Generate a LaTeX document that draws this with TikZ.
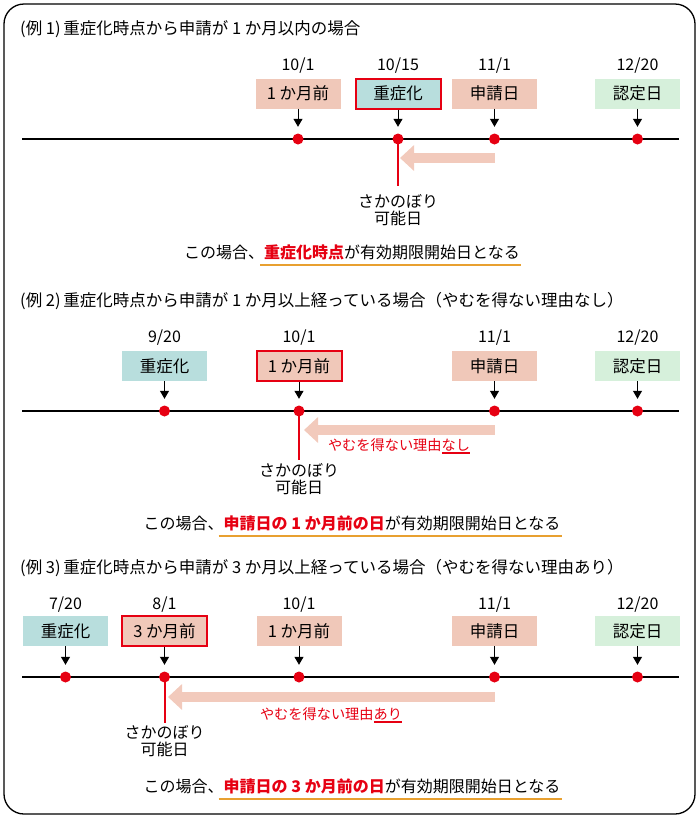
\documentclass[tikz,border=0pt]{standalone}
\usepackage{fontspec}
\setmainfont{Noto Sans CJK JP}
\usetikzlibrary{arrows.meta,calc}
\definecolor{boxpink}{RGB}{240,200,185}
\definecolor{boxteal}{RGB}{184,222,221}
\definecolor{boxgreen}{RGB}{214,240,219}
\definecolor{arrowpink}{RGB}{242,202,188}
\definecolor{hred}{RGB}{230,0,18}
\definecolor{uorange}{RGB}{232,160,48}
\begin{document}
\begin{tikzpicture}[x=1pt,y=-1pt,
  evbox/.style={minimum width=85pt, minimum height=30pt, inner sep=0pt, font=\fontsize{16.5}{16.5}\selectfont},
  pinkb/.style={evbox, fill=boxpink},
  tealb/.style={evbox, fill=boxteal},
  greenb/.style={evbox, fill=boxgreen},
  hl/.style={draw=hred, line width=2pt},
  datelbl/.style={font=\fontsize{16}{16}\selectfont, inner sep=0pt},
  evdot/.style={circle, fill=hred, inner sep=0pt, minimum size=11pt},
  ptr/.style={-{Triangle[width=9pt,length=8pt]}, line width=1pt, shorten >=6.5pt},
  tline/.style={line width=1.8pt},
  vred/.style={draw=hred, line width=2pt},
  back/.style={line width=10pt, draw=arrowpink, -{Triangle[width=25pt,length=14pt]}},
  sk/.style={align=center, font=\fontsize{16}{17}\selectfont, inner sep=0pt},
  ttl/.style={font=\fontsize{16.5}{17}\selectfont, inner sep=0pt},
  concl/.style={font=\fontsize{16}{16}\selectfont, inner sep=0pt, anchor=base},
  redtxt/.style={font=\fontsize{14.2}{14.2}\selectfont, text=hred, inner sep=0pt, anchor=base},
  uline/.style={draw=uorange, line width=2.5pt},
  rline/.style={draw=hred, line width=1.2pt}
]
\useasboundingbox (0,0) rectangle (700,820);
\draw[line width=1.3pt, rounded corners=20pt] (4,4) rectangle (695,814);

% ---------- Example 1 ----------
\node[ttl, anchor=base west] (t1) at (20,34) {(例 1)\,重症化時点から申請が 1 か月以内の場合};
\node[datelbl] (d1a) at (298,66) {10/1};
\node[datelbl] (d1b) at (398,66) {10/15};
\node[datelbl] (d1c) at (494.5,66) {11/1};
\node[datelbl] (d1d) at (637.5,66) {12/20};
\node[pinkb] (b1a) at (298,93.5) {1 か月前};
\node[tealb, hl] (b1b) at (398,93.5) {重症化};
\node[pinkb] (b1c) at (494.5,93.5) {申請日};
\node[greenb] (b1d) at (637.5,93.5) {認定日};
\coordinate (l1s) at (22,139); \coordinate (l1e) at (679,139);
\draw[tline] (l1s) -- (l1e);
\coordinate (r1) at (398,186);
\draw[vred] (398,139) -- (r1);
\node[evdot] (p1a) at (298,139) {};
\node[evdot] (p1b) at (398,139) {};
\node[evdot] (p1c) at (494.5,139) {};
\node[evdot] (p1d) at (637.5,139) {};
\foreach \i in {a,b,c,d} \draw[ptr] (b1\i) -- (p1\i);
\coordinate (a1s) at (494.5,158); \coordinate (a1t) at (400,158);
\draw[back] (a1s) -- (a1t);
\node[sk] (s1) at (398,210) {さかのぼり\\可能日};
\node[concl] (c1) at (352,258) {この場合、\textbf{\color{hred}重症化時点}が有効期限開始日となる};
\draw[uline] ([xshift=76pt,yshift=-7pt]c1.base west) -- ([xshift=1pt,yshift=-7pt]c1.base east);

% ---------- Example 2 ----------
\node[ttl, anchor=base west] (t2) at (20,306) {(例 2)\,重症化時点から申請が 1 か月以上経っている場合（やむを得ない理由なし）};
\node[datelbl] (d2a) at (164.5,338) {9/20};
\node[datelbl] (d2b) at (299,338) {10/1};
\node[datelbl] (d2c) at (494.5,338) {11/1};
\node[datelbl] (d2d) at (637.5,338) {12/20};
\node[tealb] (b2a) at (164.5,366) {重症化};
\node[pinkb, hl] (b2b) at (299,366) {1 か月前};
\node[pinkb] (b2c) at (494.5,366) {申請日};
\node[greenb] (b2d) at (637.5,366) {認定日};
\coordinate (l2s) at (22,411); \coordinate (l2e) at (679,411);
\draw[tline] (l2s) -- (l2e);
\coordinate (r2) at (299,460);
\draw[vred] (299,411) -- (r2);
\node[evdot] (p2a) at (164.5,411) {};
\node[evdot] (p2b) at (299,411) {};
\node[evdot] (p2c) at (494.5,411) {};
\node[evdot] (p2d) at (637.5,411) {};
\foreach \i in {a,b,c,d} \draw[ptr] (b2\i) -- (p2\i);
\coordinate (a2s) at (494.5,430); \coordinate (a2t) at (304,430);
\draw[back] (a2s) -- (a2t);
\node[redtxt] (n2) at (399,450) {やむを得ない理由なし};
\draw[rline] ([xshift=-28.4pt,yshift=-3pt]n2.base east) -- ([yshift=-3pt]n2.base east);
\node[sk] (s2) at (299,479) {さかのぼり\\可能日};
\node[concl] (c2) at (352,529) {この場合、\textbf{\color{hred}申請日の 1 か月前の日}が有効期限開始日となる};
\draw[uline] ([xshift=75pt,yshift=-7pt]c2.base west) -- ([xshift=1pt,yshift=-7pt]c2.base east);

% ---------- Example 3 ----------
\node[ttl, anchor=base west] (t3) at (20,573) {(例 3)\,重症化時点から申請が 3 か月以上経っている場合（やむを得ない理由あり）};
\node[datelbl] (d3a) at (65.5,605) {7/20};
\node[datelbl] (d3b) at (164.5,605) {8/1};
\node[datelbl] (d3c) at (299,605) {10/1};
\node[datelbl] (d3d) at (494.5,605) {11/1};
\node[datelbl] (d3e) at (637.5,605) {12/20};
\node[tealb] (b3a) at (65.5,631) {重症化};
\node[pinkb, hl] (b3b) at (164.5,631) {3 か月前};
\node[pinkb] (b3c) at (299,631) {1 か月前};
\node[pinkb] (b3d) at (494.5,631) {申請日};
\node[greenb] (b3e) at (637.5,631) {認定日};
\coordinate (l3s) at (22,677); \coordinate (l3e) at (679,677);
\draw[tline] (l3s) -- (l3e);
\coordinate (r3) at (164.5,723);
\draw[vred] (164.5,677) -- (r3);
\node[evdot] (p3a) at (65.5,677) {};
\node[evdot] (p3b) at (164.5,677) {};
\node[evdot] (p3c) at (299,677) {};
\node[evdot] (p3d) at (494.5,677) {};
\node[evdot] (p3e) at (637.5,677) {};
\foreach \i in {a,b,c,d,e} \draw[ptr] (b3\i) -- (p3\i);
\coordinate (a3s) at (494.5,697); \coordinate (a3t) at (168,697);
\draw[back] (a3s) -- (a3t);
\node[redtxt] (n3) at (331,719) {やむを得ない理由あり};
\draw[rline] ([xshift=-28.4pt,yshift=-3pt]n3.base east) -- ([yshift=-3pt]n3.base east);
\node[sk] (s3) at (164.5,741) {さかのぼり\\可能日};
\node[concl] (c3) at (352,792) {この場合、\textbf{\color{hred}申請日の 3 か月前の日}が有効期限開始日となる};
\draw[uline] ([xshift=75pt,yshift=-7pt]c3.base west) -- ([xshift=1pt,yshift=-7pt]c3.base east);
\end{tikzpicture}
\end{document}
